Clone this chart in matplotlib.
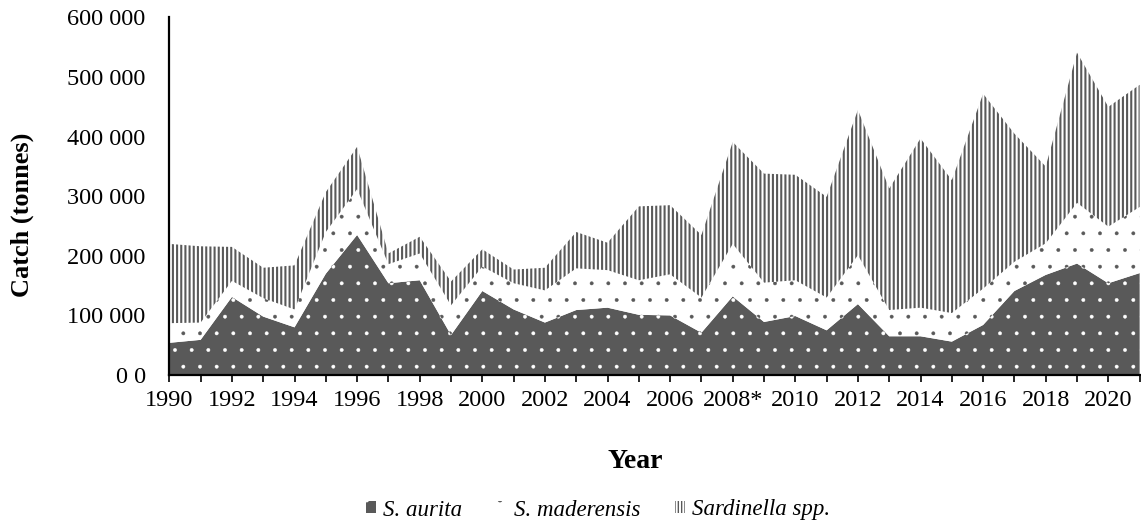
import matplotlib
matplotlib.use("Agg")
import matplotlib.pyplot as plt
from matplotlib.patches import Patch
import numpy as np

# catches in tonnes
years = list(range(1990, 2022))
aurita = [54000, 59000, 131000, 98000, 80000, 170000, 235000, 154000, 159000, 67000,
          141000, 110000, 88000, 109000, 113000, 101000, 100000, 71000, 132000, 89000,
          99000, 75000, 119000, 65000, 65000, 56000, 84000, 141000, 168000, 187000,
          154000, 171000]
maderensis = [33000, 29000, 27000, 31000, 30000, 70000, 77000, 32000, 45000, 50000,
              41000, 44000, 54000, 70000, 63000, 58000, 69000, 59000, 88000, 66000,
              60000, 55000, 82000, 44000, 48000, 48000, 61000, 49000, 53000, 102000,
              95000, 111000]
sardinella_spp = [133000, 128000, 57000, 51000, 74000, 67000, 71000, 18000, 28000, 40000,
                  29000, 23000, 38000, 61000, 46000, 124000, 116000, 105000, 171000, 183000,
                  177000, 169000, 244000, 204000, 284000, 223000, 327000, 215000, 129000, 252000,
                  201000, 205000]
series_names = ["S. aurita", "S. maderensis", "Sardinella spp."]
x_labels = [str(y) if y % 2 == 0 else "" for y in years]
x_labels[years.index(2008)] = "2008*"
y_ticks = [0, 100000, 200000, 300000, 400000, 500000, 600000]
y_labels = ["0 0", "100 000", "200 000", "300 000", "400 000", "500 000", "600 000"]

dark = "#595959"
serif = "Liberation Serif"
plt.rcParams["font.family"] = serif

fig = plt.figure(figsize=(11.41, 5.25), dpi=100)
ax = fig.add_axes([0.1484, 0.2857, 0.9988 - 0.1484, 0.9667 - 0.2857])

x = np.array(years)
l1 = np.array(aurita)
l2 = l1 + np.array(maderensis)
l3 = l2 + np.array(sardinella_spp)


def layer(lo, hi, face, hatch_col, hatch, hlw):
    with plt.rc_context({"hatch.linewidth": hlw}):
        poly = ax.fill_between(x, lo, hi, facecolor=face, edgecolor=hatch_col,
                               hatch=hatch, linewidth=0)
    if hasattr(poly, "set_hatch_linewidth"):
        poly.set_hatch_linewidth(hlw)
    return poly


layer(0, l1, dark, "white", ".", 0.3)
layer(l1, l2, "white", dark, ".", 0.3)
layer(l2, l3, "white", dark, "||||", 1.5)

ax.set_xlim(1990, 2021)
ax.set_ylim(0, 600000)
ax.set_xticks(years, x_labels)
ax.set_yticks(y_ticks, y_labels)

for side in ["top", "right"]:
    ax.spines[side].set_visible(False)
ax.spines["left"].set_linewidth(1.6)
ax.spines["bottom"].set_linewidth(1.6)
ax.tick_params(axis="x", direction="out", length=5, width=1.2, pad=6, labelsize=17.5)
ax.tick_params(axis="y", length=0, pad=17, labelsize=17.5)

fig.text(22 / 1141, 1 - 215 / 525, "Catch (tonnes)", rotation=90, ha="center",
         va="center", fontsize=19, fontweight="bold")
fig.text(635 / 1141, 1 - 462 / 525, "Year", ha="center", va="center",
         fontsize=20, fontweight="bold")

with plt.rc_context({"hatch.linewidth": 0.3}):
    h1 = Patch(facecolor=dark, edgecolor="white", hatch=".", linewidth=0)
    h2 = Patch(facecolor="white", edgecolor=dark, hatch=".", linewidth=0)
with plt.rc_context({"hatch.linewidth": 1.0}):
    h3 = Patch(facecolor="white", edgecolor=dark, hatch="|||||", linewidth=0)

fig.legend([h1, h2, h3], series_names, loc="center",
           bbox_to_anchor=(598 / 1141, 1 - 510 / 525), ncol=3, frameon=False,
           prop={"family": serif, "style": "italic", "size": 16.5},
           handlelength=0.45, handleheight=0.45, handletextpad=0.3,
           columnspacing=1.5, borderpad=0)

fig.savefig("out.png", dpi=100)
